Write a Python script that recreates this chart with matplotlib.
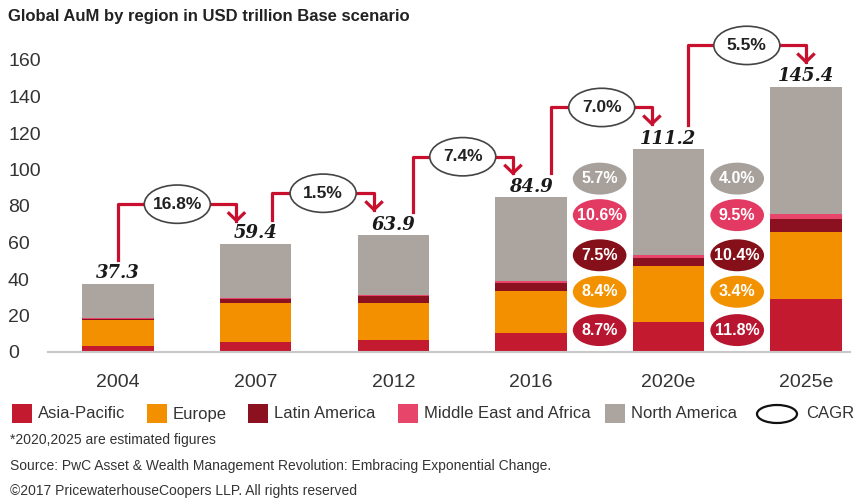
import matplotlib.pyplot as plt
from matplotlib.patches import Ellipse, Rectangle
import numpy as np

# Global AuM by region, USD trillion (base scenario)
years = ['2004', '2007', '2012', '2016', '2020e', '2025e']
totals = [37.3, 59.4, 63.9, 84.9, 111.2, 145.4]
regions = ['Asia-Pacific', 'Europe', 'Latin America', 'Middle East and Africa', 'North America']
asia_pacific = [3.2, 5.6, 6.6, 10.6, 16.3, 29.1]
europe = [14.5, 21.2, 20.3, 22.9, 30.6, 36.5]
latin_america = [0.6, 2.3, 3.8, 4.2, 4.8, 7.3]
mid_east_africa = [0.4, 0.5, 0.7, 1.1, 1.4, 2.8]
north_america = [18.6, 29.8, 32.5, 46.1, 58.1, 69.7]

# CAGR between consecutive periods (total) and per region (same order as regions)
total_cagr = ['16.8%', '1.5%', '7.4%', '7.0%', '5.5%']
cagr_2016_2020 = ['8.7%', '8.4%', '7.5%', '10.6%', '5.7%']
cagr_2020_2025 = ['11.8%', '3.4%', '10.4%', '9.5%', '4.0%']

colors = ['#c41a2f', '#f29000', '#8b1020', '#e8456a', '#aca59f']
badge_colors = ['#b81530', '#f39200', '#861019', '#e23a62', '#a8a19b']
red = '#c8102e'

narrow = ['Liberation Sans Narrow', 'Liberation Sans', 'DejaVu Sans']
plain = ['Liberation Sans', 'DejaVu Sans']

fig = plt.figure(figsize=(8.56, 5.01), dpi=100)
ax = fig.add_axes([48 / 856, 149 / 501, 802 / 856, 328.5 / 501])

series = [asia_pacific, europe, latin_america, mid_east_africa, north_america]
x = np.arange(len(years))
bottom = np.zeros(len(years))
for vals, c in zip(series, colors):
    ax.bar(x, vals, 0.52, bottom=bottom, color=c, zorder=2)
    bottom += np.array(vals)

ax.set_xlim(-0.51, 5.32)
ax.set_ylim(0, 180)
ax.set_yticks(range(0, 161, 20))
ax.set_xticks(x, years)
ax.tick_params(axis='y', length=0, pad=28.8, labelsize=14, labelcolor='#333333')
ax.tick_params(axis='x', length=0, pad=15.5, labelsize=14, labelcolor='#333333')
for lab in ax.get_yticklabels():
    lab.set_ha('left')
    lab.set_family(plain)
for lab in ax.get_xticklabels():
    lab.set_family(plain)
for s in ['top', 'right', 'left']:
    ax.spines[s].set_visible(False)
ax.spines['bottom'].set_color('#c8c8c8')
ax.spines['bottom'].set_linewidth(1.5)

# total value on top of each bar
for i, t in enumerate(totals):
    ax.text(i, bottom[i] + 3, f'{t:.1f}', ha='center', va='baseline',
            family='DejaVu Serif', style='italic', weight='bold', fontsize=13,
            color='#1a1a1a', zorder=5)

# CAGR connectors between bars
start_dx = [0.0, 0.12, 0.14, 0.15, 0.14]
end_dx = [-0.14, -0.14, -0.13, -0.12, 0.0]
level = [81, 87, 107, 134, 168]
for i, lab in enumerate(total_cagr):
    x0 = i + start_dx[i]
    x1 = i + 1 + end_dx[i]
    y0 = bottom[i] + 13
    h = level[i]
    tip = h - 9
    ax.plot([x0, x0, x1, x1], [y0, h, h, tip], color=red, lw=2.3,
            solid_joinstyle='round', clip_on=False, zorder=3)
    ax.plot([x1 - 0.055, x1, x1 + 0.055], [tip + 4, tip, tip + 4], color=red,
            lw=2.3, solid_joinstyle='miter', clip_on=False, zorder=3)
    xm = (x0 + x1) / 2
    ax.add_patch(Ellipse((xm, h), 0.48, 21, facecolor='white', edgecolor='#444444',
                         lw=1.2, zorder=4, clip_on=False))
    ax.text(xm, h, lab, ha='center', va='center', family=narrow, weight='bold',
            fontsize=12.5, color='#222222', zorder=5)

# regional CAGR badges
badge_y = [12, 33, 53, 75, 95]
for col, labels in [(3.5, cagr_2016_2020), (4.5, cagr_2020_2025)]:
    for k, lab in enumerate(labels):
        ax.add_patch(Ellipse((col, badge_y[k]), 0.39, 17.5, facecolor=badge_colors[k],
                             edgecolor='none', zorder=4))
        ax.text(col, badge_y[k], lab, ha='center', va='center', family=narrow,
                weight='bold', fontsize=11.5, color='white', zorder=5)

# title, legend and notes laid out in pixel space
lay = fig.add_axes([0, 0, 1, 1], zorder=-1)
lay.set_xlim(0, 856)
lay.set_ylim(501, 0)
lay.axis('off')

lay.text(8, 16, 'Global AuM by region in USD trillion Base scenario', ha='left', va='center',
         family=narrow, weight='bold', fontsize=12, color='#222222')

square_x = [12, 147, 248, 398, 605]
for sx, name, c in zip(square_x, regions, colors):
    lay.add_patch(Rectangle((sx, 404), 20, 19, facecolor=c, edgecolor='none'))
    lay.text(sx + 26, 418.5, name, ha='left', va='baseline', family=narrow,
             fontsize=12, color='#333333')
lay.add_patch(Ellipse((777, 414), 40, 18, facecolor='white', edgecolor='#111111', lw=1.6))
lay.text(806, 418.5, 'CAGR', ha='left', va='baseline', family=narrow, fontsize=12,
         color='#333333')

notes = ['*2020,2025 are estimated figures',
         'Source: PwC Asset & Wealth Management Revolution: Embracing Exponential Change.',
         '\u00a92017 PricewaterhouseCoopers LLP. All rights reserved']
for ny, note in zip([440, 466, 491], notes):
    lay.text(10, ny, note, ha='left', va='center', family=narrow, fontsize=10,
             color='#333333')

fig.savefig('out.png', dpi=100)
